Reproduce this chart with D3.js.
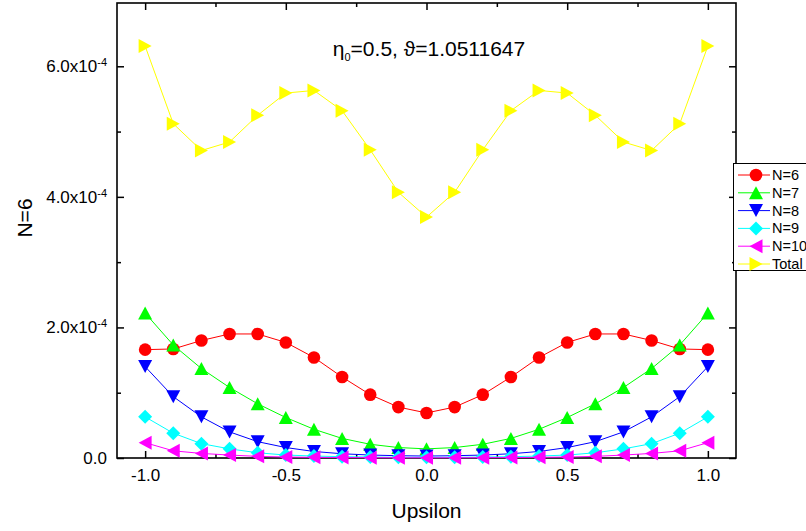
<!DOCTYPE html>
<html>
<head>
<meta charset="utf-8">
<script src="https://cdn.jsdelivr.net/npm/d3@7"></script>
<style>
  body { margin: 0; background: #fff; }
  text { font-family: "Liberation Sans", Arial, sans-serif; }
</style>
</head>
<body>
<div class="chart-container"></div>
<script>
const svgWidth = 806;
const svgHeight = 531;
const plotLeft = 117, plotRight = 736, plotTop = 3, plotBottom = 458;

// values, y in units of 1e-4
const upsilon = [-1.0, -0.9, -0.8, -0.7, -0.6, -0.5, -0.4, -0.3, -0.2, -0.1, 0.0,
                 0.1, 0.2, 0.3, 0.4, 0.5, 0.6, 0.7, 0.8, 0.9, 1.0];
const n6  = [1.66, 1.67, 1.80, 1.90, 1.90, 1.77, 1.54, 1.24, 0.97, 0.78, 0.69,
             0.78, 0.97, 1.24, 1.54, 1.77, 1.90, 1.90, 1.80, 1.67, 1.66];
const n7  = [2.22, 1.73, 1.37, 1.08, 0.83, 0.62, 0.44, 0.30, 0.21, 0.16, 0.14,
             0.16, 0.21, 0.30, 0.44, 0.62, 0.83, 1.08, 1.37, 1.73, 2.22];
const n8  = [1.40, 0.94, 0.63, 0.40, 0.25, 0.16, 0.10, 0.065, 0.045, 0.035, 0.03,
             0.035, 0.045, 0.065, 0.10, 0.16, 0.25, 0.40, 0.63, 0.94, 1.40];
const n9  = [0.63, 0.38, 0.22, 0.14, 0.08, 0.045, 0.03, 0.02, 0.015, 0.01, 0.01,
             0.01, 0.015, 0.02, 0.03, 0.045, 0.08, 0.14, 0.22, 0.38, 0.63];
const n10 = [0.235, 0.11, 0.07, 0.045, 0.025, 0.015, 0.01, 0.007, 0.005, 0.004, 0.004,
             0.004, 0.005, 0.007, 0.01, 0.015, 0.025, 0.045, 0.07, 0.11, 0.235];
const total = [6.31, 5.12, 4.71, 4.84, 5.25, 5.59, 5.63, 5.32, 4.72, 4.07, 3.69,
               4.07, 4.72, 5.32, 5.63, 5.59, 5.25, 4.84, 4.71, 5.12, 6.31];

const seriesNames = ["N=6", "N=7", "N=8", "N=9", "N=10", "Total"];
const seriesValues = [n6, n7, n8, n9, n10, total];
const seriesColors = ["#ff0000", "#00ff00", "#0000ff", "#00ffff", "#ff00ff", "#ffff00"];
const seriesMarkers = ["circle", "up", "down", "diamond", "left", "right"];

const xMajor = [-1.0, -0.5, 0.0, 0.5, 1.0];
const xMinor = [-0.75, -0.25, 0.25, 0.75];
const xTickLabels = ["-1.0", "-0.5", "0.0", "0.5", "1.0"];
const yMajor = [0, 2, 4, 6];
const yMinor = [1, 3, 5];
const yTickLabels = ["0.0", "2.0x10", "4.0x10", "6.0x10"];

const svg = d3.select(".chart-container")
              .append("svg")
              .attr("width", svgWidth)
              .attr("height", svgHeight);

svg.append("rect").attr("width", svgWidth).attr("height", svgHeight).attr("fill", "#fff");

const xScale = d3.scaleLinear().domain([-1.1, 1.1]).range([plotLeft, plotRight]);
const yScale = d3.scaleLinear().domain([0, 7]).range([plotBottom, 1]);

function markerPath(type) {
    const w = 7, h = 6.5, d = 7;
    if (type === "up") return `M0,${-h}L${w},${h}L${-w},${h}Z`;
    if (type === "down") return `M0,${h}L${w},${-h}L${-w},${-h}Z`;
    if (type === "right") return `M${h},0L${-h},${w}L${-h},${-w}Z`;
    if (type === "left") return `M${-h},0L${h},${w}L${h},${-w}Z`;
    if (type === "diamond") return `M0,${-d}L${d},0L0,${d}L${-d},0Z`;
    return d3.arc()({innerRadius: 0, outerRadius: 6.3, startAngle: 0, endAngle: 2 * Math.PI});
}

function drawAxes() {
    const axisFont = "Liberation Sans, Arial, sans-serif";

    // bottom
    const gx = svg.append("g").attr("transform", "translate(0," + plotBottom + ")")
        .call(d3.axisBottom(xScale).tickValues(xMajor).tickSizeInner(-7).tickSizeOuter(0)
              .tickPadding(11).tickFormat((d, i) => xTickLabels[i]));
    gx.attr("font-size", 17).attr("font-family", axisFont);
    svg.append("g").attr("transform", "translate(0," + plotBottom + ")")
        .call(d3.axisBottom(xScale).tickValues(xMinor).tickSizeInner(-4).tickSizeOuter(0).tickFormat(""));

    // top
    svg.append("g").attr("transform", "translate(0," + plotTop + ")")
        .call(d3.axisTop(xScale).tickValues(xMajor).tickSizeInner(-7).tickSizeOuter(0).tickFormat(""));
    svg.append("g").attr("transform", "translate(0," + plotTop + ")")
        .call(d3.axisTop(xScale).tickValues(xMinor).tickSizeInner(-4).tickSizeOuter(0).tickFormat(""));

    // left
    const gy = svg.append("g").attr("transform", "translate(" + plotLeft + ",0)")
        .call(d3.axisLeft(yScale).tickValues(yMajor).tickSizeInner(-7).tickSizeOuter(0)
              .tickPadding(10).tickFormat((d, i) => yTickLabels[i]));
    gy.attr("font-size", 17).attr("font-family", axisFont);
    gy.selectAll(".tick text").each(function(d) {
        if (d > 0) {
            d3.select(this).append("tspan")
              .attr("dy", "-0.55em")
              .attr("font-size", 11)
              .text("-4");
        }
    });
    svg.append("g").attr("transform", "translate(" + plotLeft + ",0)")
        .call(d3.axisLeft(yScale).tickValues(yMinor).tickSizeInner(-4).tickSizeOuter(0).tickFormat(""));

    // right
    svg.append("g").attr("transform", "translate(" + plotRight + ",0)")
        .call(d3.axisRight(yScale).tickValues(yMajor).tickSizeInner(-7).tickSizeOuter(0).tickFormat(""));
    svg.append("g").attr("transform", "translate(" + plotRight + ",0)")
        .call(d3.axisRight(yScale).tickValues(yMinor).tickSizeInner(-4).tickSizeOuter(0).tickFormat(""));

    svg.selectAll(".domain").remove();
    svg.selectAll(".tick line").attr("stroke", "#000").attr("stroke-width", 1.5);
    svg.selectAll(".tick text").attr("fill", "#000");

    svg.append("rect")
       .attr("x", plotLeft).attr("y", plotTop)
       .attr("width", plotRight - plotLeft).attr("height", plotBottom - plotTop)
       .attr("fill", "none").attr("stroke", "#000").attr("stroke-width", 1.6);

    svg.append("text")
       .attr("x", (plotLeft + plotRight) / 2)
       .attr("y", 518)
       .attr("text-anchor", "middle")
       .attr("font-size", 21)
       .text("Upsilon");

    svg.append("text")
       .attr("transform", "translate(32,218) rotate(-90)")
       .attr("text-anchor", "middle")
       .attr("font-size", 21)
       .text("N=6");
}

function drawSeries() {
    const line = d3.line()
                   .x(function(d) { return xScale(d.x); })
                   .y(function(d) { return yScale(d.y); });

    seriesValues.forEach(function(vals, k) {
        const pts = vals.map(function(v, i) { return {x: upsilon[i], y: v}; });
        const g = svg.append("g");
        g.append("path")
         .attr("d", line(pts))
         .attr("fill", "none")
         .attr("stroke", seriesColors[k])
         .attr("stroke-width", 1);
        g.selectAll("path.mk")
         .data(pts)
         .enter()
         .append("path")
         .attr("class", "mk")
         .attr("d", markerPath(seriesMarkers[k]))
         .attr("transform", function(d) { return "translate(" + xScale(d.x) + "," + yScale(d.y) + ")"; })
         .attr("fill", seriesColors[k]);
    });
}

function drawTitle() {
    const t = svg.append("text")
                 .attr("x", 429)
                 .attr("y", 56)
                 .attr("text-anchor", "middle")
                 .attr("font-size", 21);
    t.append("tspan").text("\u03B7");
    t.append("tspan").attr("font-size", 11).attr("dy", 5).text("0");
    t.append("tspan").attr("dy", -5).text("=0.5, \u03D1=1.0511647");
}

function drawLegend() {
    const lg = svg.append("g");
    lg.append("rect")
      .attr("x", 733.5).attr("y", 163.5)
      .attr("width", 90).attr("height", 107)
      .attr("fill", "#fff").attr("stroke", "#000").attr("stroke-width", 1);
    seriesNames.forEach(function(name, k) {
        const yy = 175 + k * 17.8;
        lg.append("line")
          .attr("x1", 738).attr("x2", 770).attr("y1", yy).attr("y2", yy)
          .attr("stroke", seriesColors[k]).attr("stroke-width", 1);
        lg.append("path")
          .attr("d", markerPath(seriesMarkers[k]))
          .attr("transform", "translate(756," + yy + ")")
          .attr("fill", seriesColors[k]);
        lg.append("text")
          .attr("x", 772).attr("y", yy)
          .attr("dy", "0.35em")
          .attr("font-size", 14.5)
          .text(name);
    });
}

drawAxes();
drawSeries();
drawTitle();
drawLegend();
</script>
</body>
</html>
